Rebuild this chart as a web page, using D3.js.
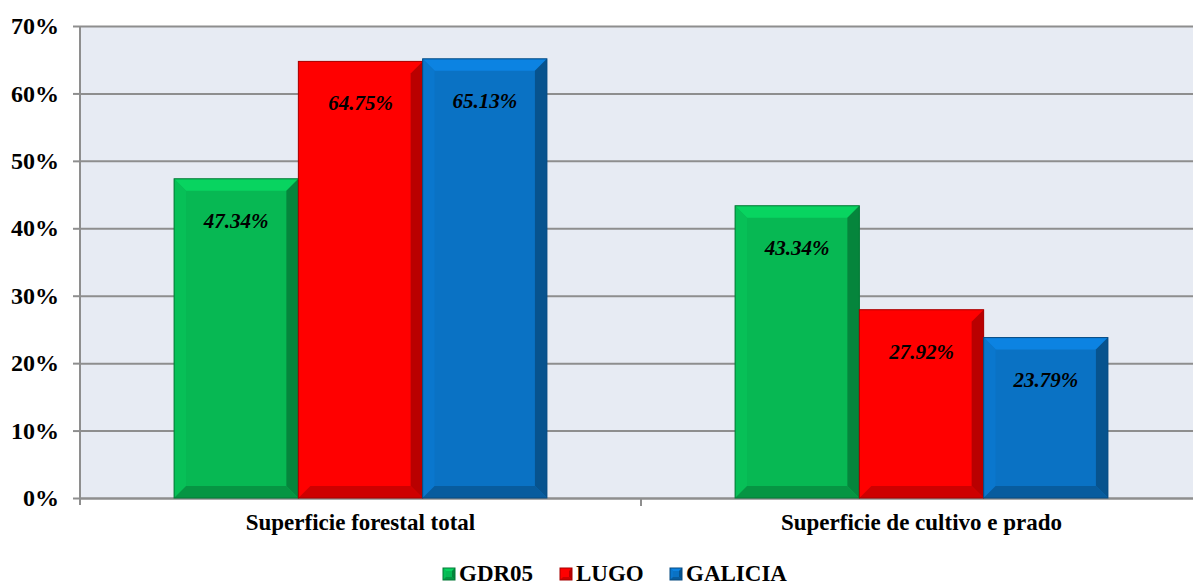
<!DOCTYPE html>
<html>
<head>
<meta charset="utf-8">
<script src="https://cdn.jsdelivr.net/npm/d3@7"></script>
<style>
  body { margin: 0; background: #fff; }
  svg text { font-family: "Liberation Serif", "Times New Roman", serif; font-weight: bold; }
</style>
</head>
<body>
<div id="chart"></div>
<script>
// chart data
const categories = ["Superficie forestal total", "Superficie de cultivo e prado"];
const series = ["GDR05", "LUGO", "GALICIA"];
const gdr05 = [47.34, 43.34];
const lugo = [64.75, 27.92];
const galicia = [65.13, 23.79];
const yTicks = [0, 10, 20, 30, 40, 50, 60, 70];

const colors = { GDR05: "#07b853", LUGO: "#ff0000", GALICIA: "#0a72c4" };

const rows = [];
categories.forEach((c, i) => {
    rows.push({ cat: c, s: "GDR05", v: gdr05[i] });
    rows.push({ cat: c, s: "LUGO", v: lugo[i] });
    rows.push({ cat: c, s: "GALICIA", v: galicia[i] });
});

const W = 1193, H = 586;
const plotLeft = 80, plotRight = 1202, plotTop = 26, plotBottom = 498;

const svg = d3.select("#chart").append("svg")
    .attr("width", W).attr("height", H);

const yScale = d3.scaleLinear().domain([0, 70]).range([plotBottom, plotTop]);
const x0 = d3.scaleBand().domain(categories).range([plotLeft, plotRight]).padding(0);
const x1 = d3.scaleBand().domain(series).range([0, x0.bandwidth()])
    .paddingInner(0).paddingOuter(0.757);

// plot background
svg.append("rect")
    .attr("x", plotLeft).attr("y", plotTop)
    .attr("width", plotRight - plotLeft).attr("height", plotBottom - plotTop)
    .attr("fill", "#e7ebf3");

// gridlines + y axis
const yAxis = d3.axisLeft(yScale).tickValues(yTicks)
    .tickFormat(d => d + "%").tickSize(-(plotRight - plotLeft)).tickPadding(21);
const yg = svg.append("g").attr("transform", `translate(${plotLeft},0)`).call(yAxis);
yg.select(".domain").remove();
yg.selectAll(".tick line").attr("stroke", "#8e8e8e").attr("stroke-width", 2);
yg.selectAll(".tick").append("line")
    .attr("x1", -7).attr("x2", 0).attr("stroke", "#8e8e8e").attr("stroke-width", 2);
yg.selectAll(".tick text")
    .attr("font-size", 24).attr("fill", "#000")
    .style("font-family", "'Liberation Serif', serif").style("font-weight", "bold");

// left axis line
svg.append("line")
    .attr("x1", plotLeft).attr("x2", plotLeft).attr("y1", plotTop).attr("y2", plotBottom + 7)
    .attr("stroke", "#8e8e8e").attr("stroke-width", 2);

// x axis
const xAxis = d3.axisBottom(x0).tickSize(0).tickPadding(16);
const xg = svg.append("g").attr("transform", `translate(0,${plotBottom})`).call(xAxis);
xg.select(".domain").attr("stroke", "#8e8e8e").attr("stroke-width", 2);
xg.selectAll(".tick text")
    .attr("font-size", 23).attr("fill", "#000")
    .style("font-family", "'Liberation Serif', serif").style("font-weight", "bold");
// category divider ticks
categories.slice(1).forEach(c => {
    svg.append("line")
        .attr("x1", x0(c)).attr("x2", x0(c)).attr("y1", plotBottom).attr("y2", plotBottom + 8)
        .attr("stroke", "#8e8e8e").attr("stroke-width", 2);
});

// bevelled bar
function bevel(g, x, y, w, h, color, b) {
    const c = d3.color(color);
    g.append("rect").attr("x", x).attr("y", y).attr("width", w).attr("height", h).attr("fill", color);
    const poly = (pts, fill) => g.append("polygon")
        .attr("points", pts.map(p => p.join(",")).join(" ")).attr("fill", fill);
    poly([[x, y], [x + w, y], [x + w - b, y + b], [x + b, y + b]], c.brighter(0.4));
    poly([[x, y], [x + b, y + b], [x + b, y + h - b], [x, y + h]], c.brighter(0.12));
    poly([[x + w, y], [x + w, y + h], [x + w - b, y + h - b], [x + w - b, y + b]], c.darker(0.9));
    poly([[x, y + h], [x + b, y + h - b], [x + w - b, y + h - b], [x + w, y + h]], c.darker(0.6));
    g.append("rect").attr("x", x).attr("y", y).attr("width", w).attr("height", h)
        .attr("fill", "none").attr("stroke", c.darker(1.2)).attr("stroke-width", 1);
}

const barG = svg.append("g");
rows.forEach(d => {
    const x = x0(d.cat) + x1(d.s);
    const y = yScale(d.v);
    bevel(barG, x, y, x1.bandwidth(), plotBottom - y, colors[d.s], 12);
});

// value labels
svg.append("g").selectAll("text")
    .data(rows)
    .join("text")
    .attr("x", d => x0(d.cat) + x1(d.s) + x1.bandwidth() / 2)
    .attr("y", d => yScale(d.v) + 49)
    .attr("text-anchor", "middle")
    .attr("font-size", 21)
    .attr("font-style", "italic")
    .attr("fill", "#000")
    .text(d => d.v.toFixed(2) + "%");

// legend
const legendX = [443, 560, 670];
const legend = svg.append("g");
series.forEach((s, i) => {
    const lg = legend.append("g");
    bevel(lg, legendX[i], 568, 12, 12, colors[s], 3);
    lg.append("text")
        .attr("x", legendX[i] + 16).attr("y", 581)
        .attr("font-size", 23).attr("fill", "#000")
        .text(s);
});
</script>
</body>
</html>
